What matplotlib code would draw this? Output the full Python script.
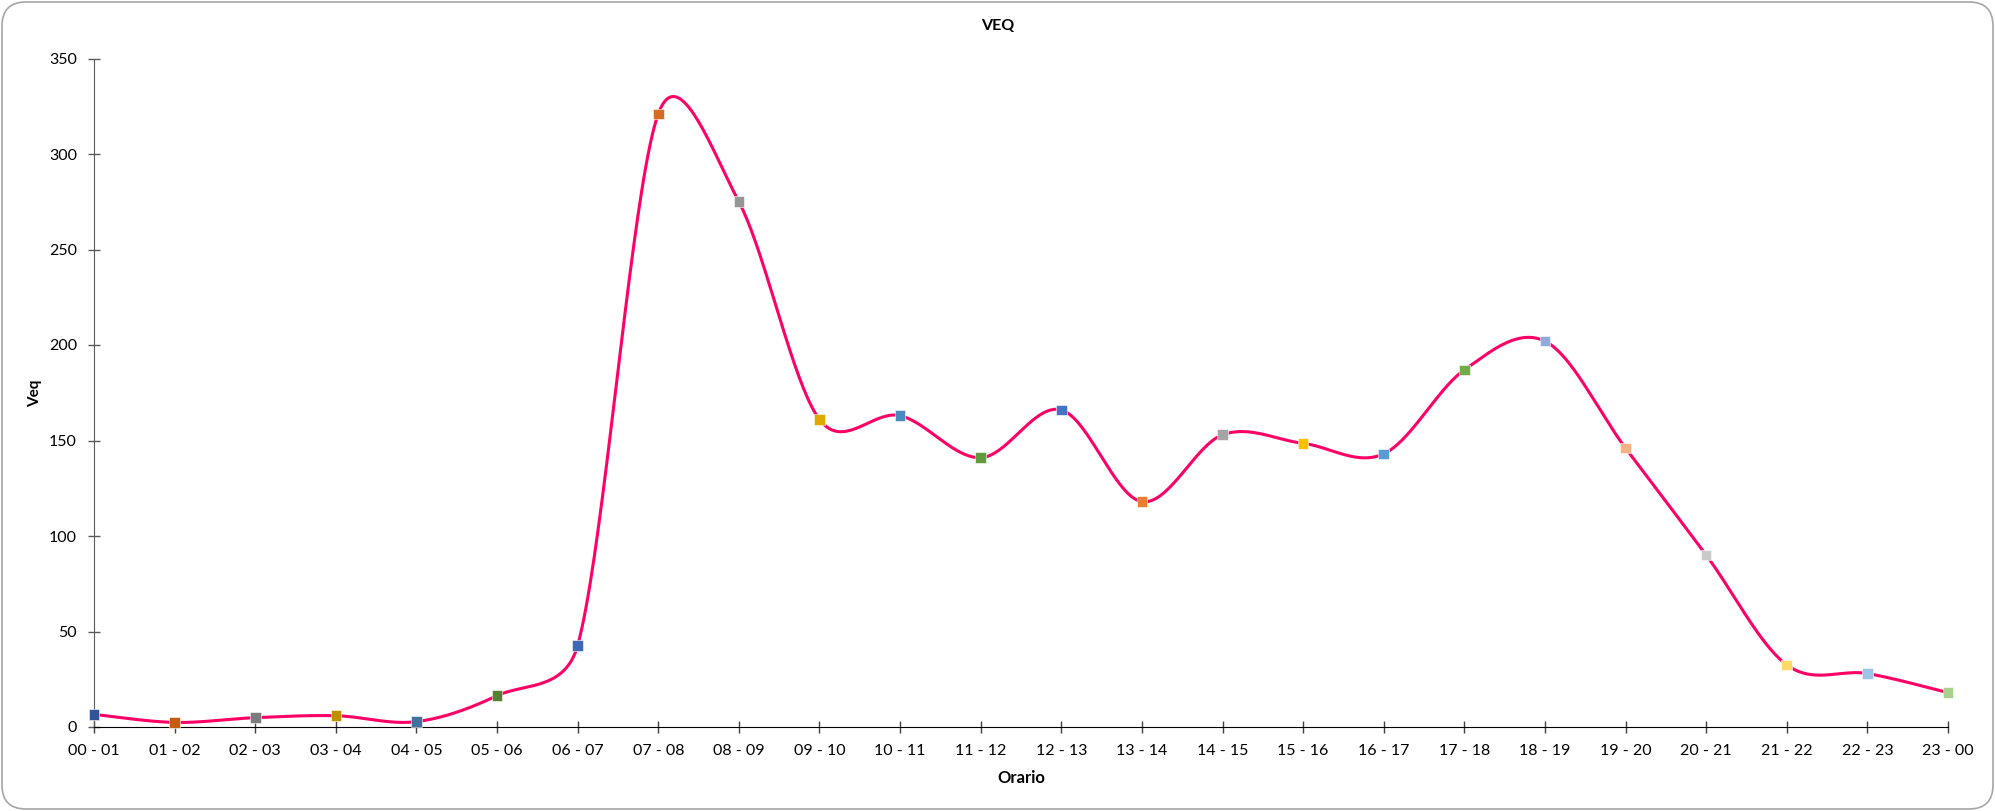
import numpy as np
import matplotlib.pyplot as plt
from matplotlib.patches import FancyBboxPatch

orari = ['00 - 01', '01 - 02', '02 - 03', '03 - 04', '04 - 05', '05 - 06', '06 - 07', '07 - 08',
         '08 - 09', '09 - 10', '10 - 11', '11 - 12', '12 - 13', '13 - 14', '14 - 15', '15 - 16',
         '16 - 17', '17 - 18', '18 - 19', '19 - 20', '20 - 21', '21 - 22', '22 - 23', '23 - 00']
veq = [6.6, 2.4, 4.9, 5.9, 2.8, 16.4, 42.7, 321, 275, 161, 163, 141,
       166, 118, 153, 148.5, 143, 187, 202, 146, 90, 32.5, 28, 18]

# colori dei marker (palette Office, variati per punto)
colori = ['#2F5597', '#C55A11', '#7B7B7B', '#BF9000', '#41719C', '#548235',
          '#3C68B5', '#D56B24', '#969696', '#E0A800', '#4A88C0', '#5F9A3C',
          '#4472C4', '#ED7D31', '#A5A5A5', '#FFC000', '#5B9BD5', '#70AD47',
          '#8FAADC', '#F4B183', '#C9C9C9', '#FFD966', '#9DC3E6', '#A9D18E']

font = ['Lato', 'DejaVu Sans']

def curva_smooth(x, y, sx, sy, n=40):
    # linea smussata come in Excel: Bezier con controlli limitati (distanze in pixel)
    P = np.column_stack([np.asarray(x, float) * sx, np.asarray(y, float) * sy])
    P = np.vstack([P[0], P, P[-1]])
    out = []
    t = np.linspace(0, 1, n)[:, None]
    for i in range(1, len(P) - 2):
        p0, p1, p2, p3 = P[i - 1], P[i], P[i + 1], P[i + 2]
        d12 = np.hypot(*(p2 - p1))
        d02 = np.hypot(*(p2 - p0))
        d13 = np.hypot(*(p3 - p1))
        f = 1 / 6 if d02 / 6 < d12 / 2 else d12 / (2 * d02)
        g = 1 / 6 if d13 / 6 < d12 / 2 else d12 / (2 * d13)
        c1 = p1 + (p2 - p0) * f
        c2 = p2 - (p3 - p1) * g
        b = (1 - t) ** 3 * p1 + 3 * (1 - t) ** 2 * t * c1 + 3 * (1 - t) * t ** 2 * c2 + t ** 3 * p2
        out.append(b)
    out = np.vstack(out)
    return out[:, 0] / sx, out[:, 1] / sy

fig = plt.figure(figsize=(19.95, 8.11), dpi=100)
x0, x1, y0, y1 = 94, 1948, 727, 58.5
ax = fig.add_axes([x0 / 1995, 1 - y0 / 811, (x1 - x0) / 1995, (y0 - y1) / 811])

x = np.arange(len(orari))
xs, ys = curva_smooth(x, veq, (x1 - x0) / 23, (y0 - y1) / 350)
ax.plot(xs, ys, color='#FF0066', lw=2.2, zorder=2, clip_on=False)
ax.scatter(x, veq, c=colori, marker='s', s=58, edgecolors='white', linewidths=0.4,
           zorder=3, clip_on=False)

ax.set_xlim(0, 23)
ax.set_ylim(0, 350)
ax.set_xticks(x)
ax.set_xticklabels(orari)
ax.set_yticks(np.arange(0, 351, 50))

for s in ['top', 'right']:
    ax.spines[s].set_visible(False)
ax.spines['left'].set_color('#595959')
ax.spines['bottom'].set_color('#000000')
ax.tick_params(axis='y', direction='inout', length=8.5, width=1, color='#595959',
               labelsize=11.5, pad=8)
ax.tick_params(axis='x', direction='inout', length=9, width=1, color='#404040',
               labelsize=11.5, pad=8)
for lab in ax.get_xticklabels() + ax.get_yticklabels():
    lab.set_fontfamily(font)

fig.text(998 / 1995, 1 - 25.5 / 811, 'VEQ', ha='center', va='center',
         fontsize=11.5, fontweight='bold', family=font)
fig.text(35 / 1995, 1 - 393 / 811, 'Veq', ha='center', va='center', rotation=90,
         fontsize=11, fontweight='bold', family=font)
fig.text(1021 / 1995, 1 - 778 / 811, 'Orario', ha='center', va='center',
         fontsize=12, fontweight='bold', family=font)

bordo = FancyBboxPatch((2 / 1995, 2 / 811), 1 - 4 / 1995, 1 - 4 / 811,
                       boxstyle='round,pad=0,rounding_size=0.012',
                       transform=fig.transFigure, fill=False, edgecolor='#A6A6A6', lw=1.2,
                       mutation_aspect=1995 / 811)
fig.patches.append(bordo)

plt.savefig('out.png', dpi=100)
